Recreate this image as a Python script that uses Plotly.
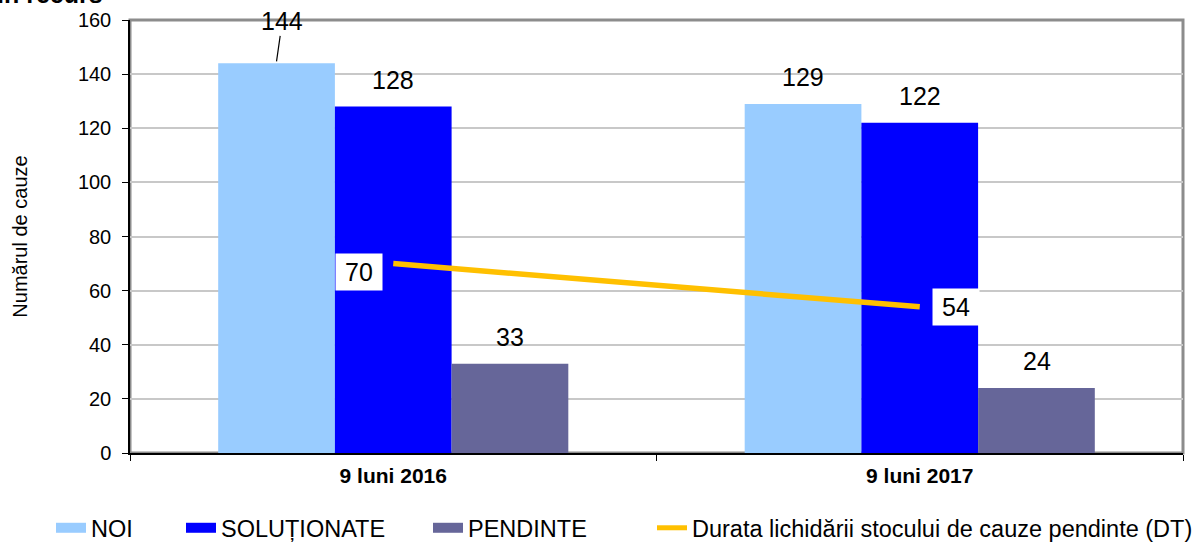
import plotly.graph_objects as go

categories = ["9 luni 2016", "9 luni 2017"]
noi = [144, 129]
solutionate = [128, 122]
pendinte = [33, 24]
durata = [70, 54]
series_names = ["NOI", "SOLUȚIONATE", "PENDINTE", "Durata lichidării stocului de cauze pendinte (DT)"]
colors = ["#99CCFF", "#0000FF", "#666699", "#FFC000"]

FONT = "Liberation Sans, Arial, sans-serif"
L, R, T, B = 130, 19, 20, 89
W, H = 1202, 542
PW, PH = W - L - R, H - T - B

def px_x(p):
    return (p - L) / PW

def px_y(p):
    return (H - B - p) / PH

fig = go.Figure()

for vals, name, col in zip([noi, solutionate, pendinte], series_names[:3], colors[:3]):
    fig.add_trace(go.Bar(x=categories, y=vals, name=name, marker=dict(color=col, line=dict(width=0)),
                         showlegend=False, hoverinfo="y"))

fig.add_trace(go.Scatter(x=categories, y=durata, mode="lines", name=series_names[3],
                         line=dict(color=colors[3], width=5.5), showlegend=False))

# legend entries, each in its own legend box so they can be placed like the reference
legend_text_x = [93, 223, 470, 694]
legend_ids = ["legend", "legend2", "legend3", "legend4"]
for name, col, w, lid in zip(series_names, colors, [13, 13, 13, 5], legend_ids):
    fig.add_trace(go.Scatter(x=[None], y=[None], mode="lines", name=name, legend=lid,
                             line=dict(color=col, width=w), showlegend=True))

ann = []
bar_px = 117
for i, cat in enumerate(categories):
    for j, vals in enumerate([noi, solutionate, pendinte]):
        off = (j - 1) * bar_px
        if i == 0 and j == 0:
            ann.append(dict(x=cat, y=vals[i], xref="x", yref="y", text=str(vals[i]), showarrow=True,
                            arrowhead=0, arrowwidth=1.2, arrowcolor="black", ax=6, ay=-42, standoff=2,
                            borderpad=0, xshift=off, font=dict(size=25, color="black", family=FONT)))
        else:
            ann.append(dict(x=cat, y=vals[i], xref="x", yref="y", text=str(vals[i]), showarrow=False,
                            xshift=off, yshift=27, yanchor="middle",
                            font=dict(size=25, color="black", family=FONT)))
line_shifts = [(-34, -8), (36, 0)]
for i, cat in enumerate(categories):
    ann.append(dict(x=cat, y=durata[i], xref="x", yref="y", text="\u2009" + str(durata[i]) + "\u2009",
                    showarrow=False, xshift=line_shifts[i][0], yshift=line_shifts[i][1],
                    bgcolor="white", borderpad=4, font=dict(size=25, color="black", family=FONT)))
# partially cut-off title at the top
ann.append(dict(x=px_x(105), y=px_y(10), xref="paper", yref="paper", text="<b>în recurs</b>",
                showarrow=False, xanchor="right", yanchor="bottom",
                font=dict(size=25, color="black", family=FONT)))

legend_common = dict(orientation="h", yanchor="middle", xanchor="left", bgcolor="rgba(0,0,0,0)",
                     font=dict(size=23.5, family=FONT, color="black"), itemwidth=30, borderwidth=0)
layout_legends = {}
for lid, tx in zip(legend_ids, legend_text_x):
    layout_legends[lid] = dict(legend_common, x=px_x(tx - 42), y=px_y(528))

fig.update_layout(
    width=W, height=H,
    margin=dict(l=L, r=R, t=T, b=B, autoexpand=False),
    paper_bgcolor="white", plot_bgcolor="white",
    barmode="group", bargap=0.335, bargroupgap=0,
    font=dict(family=FONT, color="black"),
    annotations=ann,
    shapes=[dict(type="rect", xref="paper", yref="paper", x0=0, x1=1, y0=0, y1=1,
                 line=dict(color="#8C8C8C", width=3), layer="below")],
    **layout_legends,
)
fig.update_yaxes(range=[0, 160], dtick=20, showgrid=True, gridcolor="#C8C8C8", gridwidth=1.5,
                 showline=True, linecolor="black", linewidth=1.5, ticks="outside", ticklen=6,
                 tickcolor="black", tickfont=dict(size=20, family=FONT), zeroline=False,
                 ticklabelstandoff=7, automargin=False,
                 title=dict(text="Numărul de cauze", font=dict(size=20, family=FONT), standoff=45))
fig.update_xaxes(showline=True, linecolor="black", linewidth=1.5, ticks="outside", ticklen=6,
                 tickcolor="black", tickson="boundaries", showgrid=False, automargin=False,
                 tickfont=dict(size=21, family=FONT), ticklabelstandoff=3,
                 tickvals=categories, ticktext=["<b>" + c + "</b>" for c in categories])

fig.write_html("out.html", config={"displayModeBar": False},
               post_script="document.body.style.margin='0px';document.body.style.overflow='hidden';")
